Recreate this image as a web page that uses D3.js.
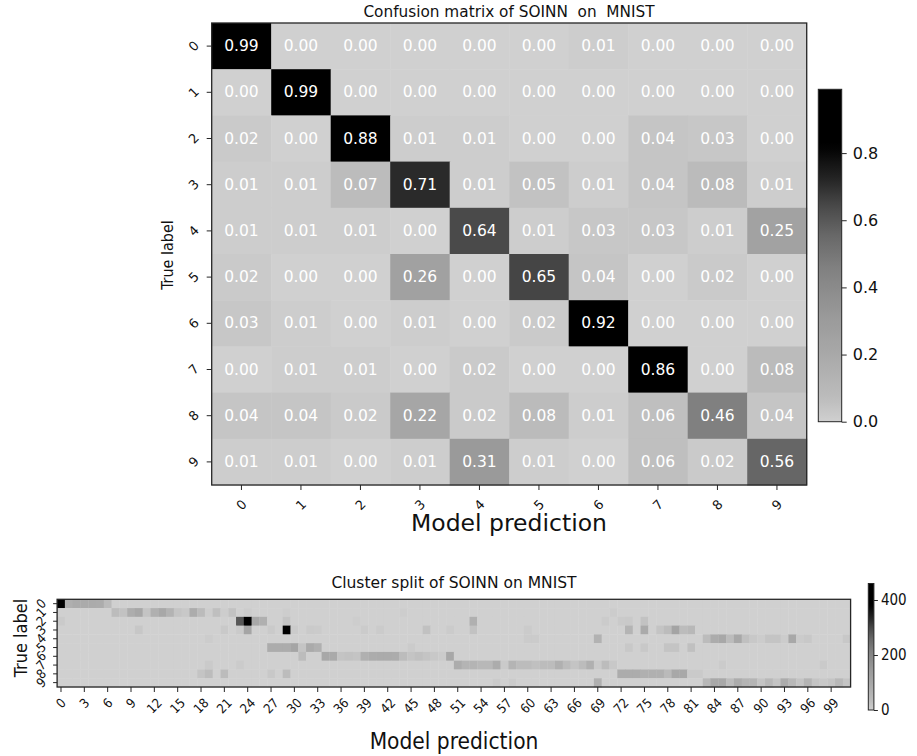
<!DOCTYPE html>
<html>
<head>
<meta charset="utf-8">
<script src="https://cdn.jsdelivr.net/npm/d3@7"></script>
<style>
  body { margin: 0; background: #fff; }
  svg text { font-family: "DejaVu Sans", sans-serif; fill: #111; }
  .cond { font-family: "DejaVu Sans Condensed", "DejaVu Sans", sans-serif; font-stretch: condensed; }
</style>
</head>
<body>
<svg id="chart" width="917" height="756"></svg>
<script>
// confusion matrix (rows = true label, cols = prediction)
var digits = ["0", "1", "2", "3", "4", "5", "6", "7", "8", "9"];
var confusion = [
  [0.99, 0.00, 0.00, 0.00, 0.00, 0.00, 0.01, 0.00, 0.00, 0.00],
  [0.00, 0.99, 0.00, 0.00, 0.00, 0.00, 0.00, 0.00, 0.00, 0.00],
  [0.02, 0.00, 0.88, 0.01, 0.01, 0.00, 0.00, 0.04, 0.03, 0.00],
  [0.01, 0.01, 0.07, 0.71, 0.01, 0.05, 0.01, 0.04, 0.08, 0.01],
  [0.01, 0.01, 0.01, 0.00, 0.64, 0.01, 0.03, 0.03, 0.01, 0.25],
  [0.02, 0.00, 0.00, 0.26, 0.00, 0.65, 0.04, 0.00, 0.02, 0.00],
  [0.03, 0.01, 0.00, 0.01, 0.00, 0.02, 0.92, 0.00, 0.00, 0.00],
  [0.00, 0.01, 0.01, 0.00, 0.02, 0.00, 0.00, 0.86, 0.00, 0.08],
  [0.04, 0.04, 0.02, 0.22, 0.02, 0.08, 0.01, 0.06, 0.46, 0.04],
  [0.01, 0.01, 0.00, 0.01, 0.31, 0.01, 0.00, 0.06, 0.02, 0.56]
];
var confusionMax = 0.99;
var confusionTicks = [0.0, 0.2, 0.4, 0.6, 0.8];

// cluster split: [cluster index, count] per true digit, other clusters are 0
var clusterCount = 102;
var splitMax = 460;
var splitTicks = [0, 200, 400];
var clusterTicks = d3.range(0, 100, 3);
var split0 = [[0,460],[1,75],[2,85],[3,85],[4,85],[5,82],[6,35]];
var split1 = [[7,33],[8,22],[9,80],[10,100],[11,19],[12,70],[13,95],[14,62],[15,19],[16,13],[17,82],[18,36],[19,5],[20,28],[21,5],[22,22],[24,6],[29,5],[44,5],[71,6]];
var split2 = [[0,10],[23,280],[24,430],[25,95],[26,70],[29,19],[38,5],[53,70],[70,8],[72,10],[73,12],[75,22]];
var split3 = [[10,15],[21,12],[23,10],[24,104],[27,10],[29,420],[30,8],[32,10],[33,8],[39,8],[41,8],[47,24],[50,8],[53,22],[60,8],[73,57],[75,89],[77,19],[78,32],[79,108],[80,32],[81,45]];
var split4 = [[19,6],[60,8],[61,8],[69,65],[83,32],[84,82],[85,95],[86,32],[87,95],[88,26],[89,13],[90,6],[91,19],[92,19],[93,6],[94,95],[95,8],[96,13],[101,13]];
var split5 = [[27,82],[28,82],[29,82],[30,104],[31,19],[32,89],[33,70],[45,8],[73,13],[75,13],[78,19],[79,19],[81,26]];
var split6 = [[31,33],[34,95],[35,90],[36,19],[37,22],[38,19],[39,70],[40,82],[41,85],[42,85],[43,82],[44,32],[45,19],[46,26],[47,19],[48,13],[49,8],[50,95]];
var split7 = [[19,10],[23,8],[51,82],[52,57],[53,57],[54,45],[55,45],[56,82],[57,10],[58,57],[59,32],[60,32],[61,26],[62,32],[63,32],[64,70],[65,32],[66,19],[67,32],[68,70],[69,10],[70,32],[71,13],[85,8],[98,10]];
var split8 = [[18,19],[19,32],[21,33],[27,13],[29,33],[72,82],[73,82],[74,82],[75,70],[76,70],[77,70],[78,40],[79,95],[80,95],[81,10],[82,10]];
var split9 = [[56,8],[58,8],[69,70],[83,45],[84,95],[85,95],[86,32],[87,82],[88,57],[89,57],[90,19],[91,45],[92,19],[93,82],[94,45],[95,19],[96,57],[97,19],[98,13],[99,19],[100,45],[101,19]];
var splits = [split0, split1, split2, split3, split4, split5, split6, split7, split8, split9];

// grey colormap (light grey -> black), input is value / max
var cmap = d3.scaleLinear()
  .domain([0, 0.0707, 0.222, 0.313, 0.465, 0.566, 0.646, 0.717, 0.83, 1])
  .range([208, 188, 166, 154, 128, 102, 74, 42, 0, 0])
  .clamp(true);
function grey(t) {
  var g = Math.round(cmap(t));
  return d3.rgb(g, g, g).toString();
}

var svg = d3.select("#chart");
var frame = "#262626";

// ---------- top: confusion matrix ----------
var cells = [];
confusion.forEach(function (row, i) {
  row.forEach(function (v, j) { cells.push({ r: digits[i], c: digits[j], v: v }); });
});

var x = d3.scaleBand().domain(digits).range([211.7, 806.7]);
var y = d3.scaleBand().domain(digits).range([23, 485]);

var gTop = svg.append("g");
gTop.selectAll("rect.cell")
  .data(cells)
  .enter()
  .append("rect")
  .attr("class", "cell")
  .attr("x", function (d) { return x(d.c); })
  .attr("y", function (d) { return y(d.r); })
  .attr("width", x.bandwidth() + 0.5)
  .attr("height", y.bandwidth() + 0.5)
  .attr("fill", function (d) { return grey(d.v / confusionMax); });

gTop.selectAll("text.val")
  .data(cells)
  .enter()
  .append("text")
  .attr("class", "val")
  .attr("x", function (d) { return x(d.c) + x.bandwidth() / 2; })
  .attr("y", function (d) { return y(d.r) + y.bandwidth() / 2; })
  .attr("text-anchor", "middle")
  .attr("dominant-baseline", "central")
  .style("fill", "#fff")
  .style("font-size", "15.5px")
  .text(function (d) { return d.v.toFixed(2); });

gTop.append("rect")
  .attr("x", 211.7).attr("y", 23).attr("width", 595).attr("height", 462)
  .attr("fill", "none").attr("stroke", frame).attr("stroke-width", 1.3);

var yAxTop = gTop.append("g").attr("transform", "translate(211.7,0)")
  .call(d3.axisLeft(y).tickSize(5));
yAxTop.select(".domain").remove();
yAxTop.selectAll(".tick line").attr("stroke", frame);
yAxTop.selectAll(".tick text")
  .attr("x", null).attr("dy", null)
  .attr("text-anchor", "middle")
  .attr("dominant-baseline", "central")
  .attr("transform", "translate(-18,0) rotate(-45)")
  .style("font-size", "13px").style("font-family", null);

var xAxTop = gTop.append("g").attr("transform", "translate(0,485)")
  .call(d3.axisBottom(x).tickSize(5));
xAxTop.select(".domain").remove();
xAxTop.selectAll(".tick line").attr("stroke", frame);
xAxTop.selectAll(".tick text")
  .attr("y", null).attr("dy", null)
  .attr("text-anchor", "middle")
  .attr("dominant-baseline", "central")
  .attr("transform", "translate(0,20) rotate(-45)")
  .style("font-size", "13px").style("font-family", null);

gTop.append("text")
  .attr("x", 509).attr("y", 12)
  .attr("text-anchor", "middle").attr("dominant-baseline", "central")
  .style("font-size", "15.3px").style("white-space", "pre")
  .text("Confusion matrix of SOINN  on  MNIST");

gTop.append("text")
  .attr("x", 509).attr("y", 523)
  .attr("text-anchor", "middle").attr("dominant-baseline", "central")
  .style("font-size", "23.5px")
  .text("Model prediction");

gTop.append("text")
  .attr("class", "cond")
  .attr("transform", "translate(167,255) rotate(-90)")
  .attr("text-anchor", "middle").attr("dominant-baseline", "central")
  .style("font-size", "16px")
  .text("True label");

// colorbar for the matrix
var defs = svg.append("defs");
function addGradient(id) {
  var g = defs.append("linearGradient").attr("id", id)
    .attr("x1", 0).attr("y1", 1).attr("x2", 0).attr("y2", 0);
  d3.range(0, 1.0001, 0.02).forEach(function (t) {
    g.append("stop").attr("offset", t).attr("stop-color", grey(t));
  });
}
addGradient("gradTop");
addGradient("gradBottom");

var cbY = d3.scaleLinear().domain([0, confusionMax]).range([421.7, 89.3]);
gTop.append("rect")
  .attr("x", 818.3).attr("y", cbY(confusionMax))
  .attr("width", 23.4).attr("height", cbY(0) - cbY(confusionMax))
  .attr("fill", "url(#gradTop)").attr("stroke", frame).attr("stroke-width", 1);
var cbAx = gTop.append("g").attr("transform", "translate(841.7,0)")
  .call(d3.axisRight(cbY).tickValues(confusionTicks).tickFormat(d3.format(".1f")).tickSize(5).tickPadding(6));
cbAx.select(".domain").remove();
cbAx.selectAll(".tick line").attr("stroke", frame);
cbAx.selectAll(".tick text").style("font-size", "16px").style("font-family", null);

// ---------- bottom: cluster split ----------
var splitCells = [];
splits.forEach(function (list, i) {
  var row = d3.range(clusterCount).map(function () { return 0; });
  list.forEach(function (p) { row[p[0]] = p[1]; });
  row.forEach(function (v, j) { splitCells.push({ r: digits[i], c: j, v: v }); });
});

var xs = d3.scaleBand().domain(d3.range(clusterCount)).range([57.1, 850.6]);
var ys = d3.scaleBand().domain(digits).range([599.3, 687]);

var gBot = svg.append("g");
gBot.selectAll("rect.cell")
  .data(splitCells)
  .enter()
  .append("rect")
  .attr("class", "cell")
  .attr("x", function (d) { return xs(d.c); })
  .attr("y", function (d) { return ys(d.r); })
  .attr("width", xs.bandwidth() + 0.4)
  .attr("height", ys.bandwidth() + 0.4)
  .attr("fill", function (d) { return grey(d.v / splitMax); });

gBot.append("rect")
  .attr("x", 57.1).attr("y", 599.3).attr("width", 793.5).attr("height", 87.7)
  .attr("fill", "none").attr("stroke", frame).attr("stroke-width", 1.3);

var yAxBot = gBot.append("g").attr("transform", "translate(57.1,0)")
  .call(d3.axisLeft(ys).tickSize(4));
yAxBot.select(".domain").remove();
yAxBot.selectAll(".tick line").attr("stroke", frame);
yAxBot.selectAll(".tick text")
  .attr("x", null).attr("dy", null)
  .attr("text-anchor", "middle")
  .attr("dominant-baseline", "central")
  .attr("class", "cond")
  .attr("transform", "translate(-16,0) rotate(-45)")
  .style("font-size", "13px");

var xAxBot = gBot.append("g").attr("transform", "translate(0,687)")
  .call(d3.axisBottom(xs).tickValues(clusterTicks).tickSize(5));
xAxBot.select(".domain").remove();
xAxBot.selectAll(".tick line").attr("stroke", frame);
xAxBot.selectAll(".tick text")
  .attr("y", null).attr("dy", null)
  .attr("text-anchor", "middle")
  .attr("dominant-baseline", "central")
  .attr("class", "cond")
  .attr("transform", function (d) {
    var w = String(d).length * 7.4;
    var h = (w + 10) * 0.707;
    return "translate(0," + (10 + h / 2) + ") rotate(-45)";
  })
  .style("font-size", "13px");

gBot.append("text")
  .attr("x", 454).attr("y", 583)
  .attr("text-anchor", "middle").attr("dominant-baseline", "central")
  .style("font-size", "15.5px")
  .text("Cluster split of SOINN on MNIST");

gBot.append("text")
  .attr("class", "cond")
  .attr("x", 454).attr("y", 741)
  .attr("text-anchor", "middle").attr("dominant-baseline", "central")
  .style("font-size", "22.5px")
  .text("Model prediction");

gBot.append("text")
  .attr("class", "cond")
  .attr("transform", "translate(20,638) rotate(-90)")
  .attr("text-anchor", "middle").attr("dominant-baseline", "central")
  .style("font-size", "18px")
  .text("True label");

var cbY2 = d3.scaleLinear().domain([0, splitMax]).range([710, 583.5]);
gBot.append("rect")
  .attr("x", 868.3).attr("y", cbY2(splitMax))
  .attr("width", 5.6).attr("height", cbY2(0) - cbY2(splitMax))
  .attr("fill", "url(#gradBottom)").attr("stroke", frame).attr("stroke-width", 1);
var cbAx2 = gBot.append("g").attr("transform", "translate(873.9,0)")
  .call(d3.axisRight(cbY2).tickValues(splitTicks).tickSize(4).tickPadding(3));
cbAx2.select(".domain").remove();
cbAx2.selectAll(".tick line").attr("stroke", frame);
cbAx2.selectAll(".tick text").attr("class", "cond").style("font-size", "15px");
</script>
</body>
</html>
